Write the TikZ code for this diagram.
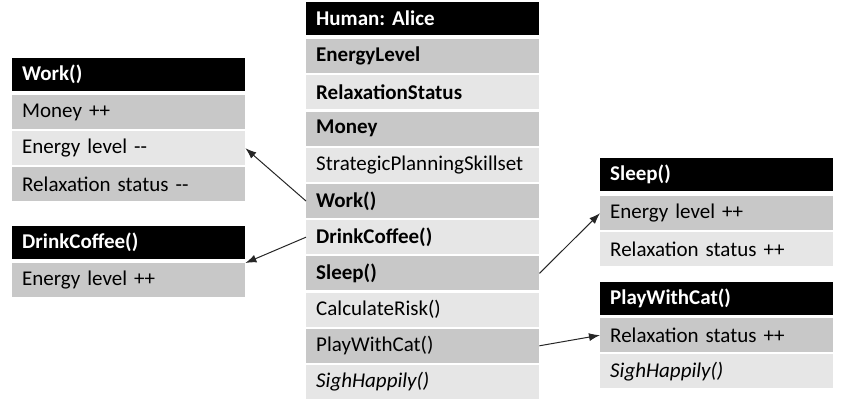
\documentclass[tikz,border=0pt]{standalone}
\usepackage{fontspec}
\setmainfont{Carlito}
\usetikzlibrary{arrows.meta}
\definecolor{rowdark}{HTML}{C8C8C8}
\definecolor{rowlight}{HTML}{E6E6E6}
\definecolor{linkgray}{HTML}{262626}
\tikzset{
  box/.style={anchor=north west, minimum height=34pt, text width=213pt,
    inner xsep=10pt, inner ysep=0pt, align=left, font=\fontsize{21}{24}\selectfont},
  head/.style={box, fill=black, text=white, minimum height=33pt,
    font=\fontsize{21}{24}\selectfont\bfseries},
  dark/.style={box, fill=rowdark},
  light/.style={box, fill=rowlight},
  link/.style={draw=linkgray, line width=1pt, -{Latex[length=11pt,width=8pt]}}
}
\frenchspacing
\begin{document}
\begin{tikzpicture}[x=1pt,y=-1pt]
          \useasboundingbox (0,0) rectangle (844,414);

          % the object in the middle
          \node[head]  (alice)    at (306,2)     {Human: Alice};
          \node[dark]  (cenergy)  at (306,39)    {\textbf{EnergyLevel}};
          \node[light] (crelax)   at (306,75.2)  {\textbf{RelaxationStatus}};
          \node[dark]  (cmoney)   at (306,111.4) {\textbf{Money}};
          \node[light] (cskill)   at (306,147.6) {StrategicPlanningSkillset};
          \node[dark]  (cwork)    at (306,183.8) {\textbf{Work()}};
          \node[light] (cdrink)   at (306,220)   {\textbf{DrinkCoffee()}};
          \node[dark]  (csleep)   at (306,256.2) {\textbf{Sleep()}};
          \node[light] (crisk)    at (306,292.4) {CalculateRisk()};
          \node[dark]  (cplay)    at (306,328.6) {PlayWithCat()};
          \node[light] (csigh)    at (306,364.8) {\textit{SighHappily()}};

          % left side
          \node[head]  (whead)    at (12,58)     {Work()};
          \node[dark]  (wmoney)   at (12,95)     {Money ++};
          \node[light] (wenergy)  at (12,131)    {Energy level -{}-};
          \node[dark]  (wrelax)   at (12,167)    {Relaxation status -{}-};

          \node[head]  (dhead)    at (12,226)    {DrinkCoffee()};
          \node[dark]  (denergy)  at (12,263)    {Energy level ++};

          % right side
          \node[head]  (shead)    at (600,158)   {Sleep()};
          \node[dark]  (senergy)  at (600,196)   {Energy level ++};
          \node[light] (srelax)   at (600,232)   {Relaxation status ++};

          \node[head]  (phead)    at (600,282)   {PlayWithCat()};
          \node[dark]  (prelax)   at (600,318)   {Relaxation status ++};
          \node[light] (psigh)    at (600,354)   {\textit{SighHappily()}};

          \draw[link] (cwork.west) -- (wenergy.east);
          \draw[link] (cdrink.west) -- (denergy.north east);
          \draw[link] (csleep.east) -- (senergy.west);
          \draw[link] (cplay.east) -- (prelax.west);
\end{tikzpicture}
\end{document}
